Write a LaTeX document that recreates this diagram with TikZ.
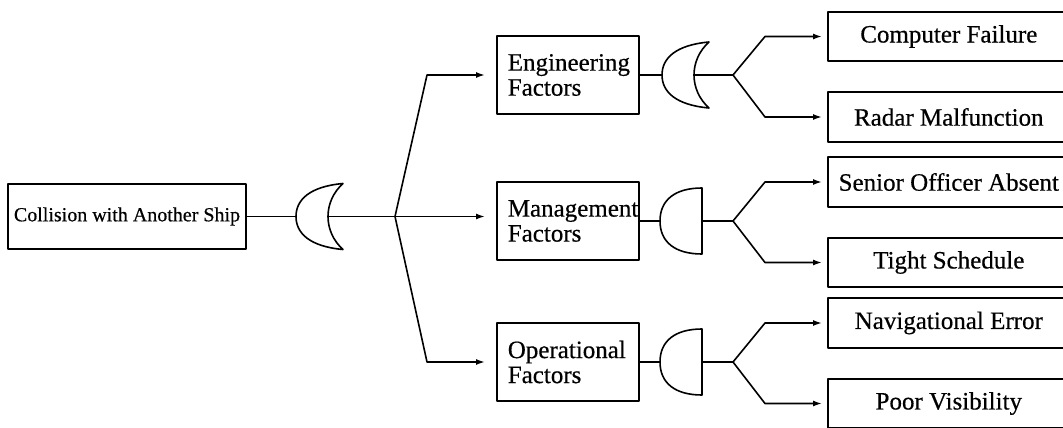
\documentclass[tikz,border=0pt]{standalone}
\usepackage{fontspec}
\setmainfont{Liberation Serif}[FakeBold=0.5]
\usetikzlibrary{arrows.meta}
\tikzset{
  ln/.style={line width=1.6pt, line join=round},
  arr/.style={ln, -{Latex[length=9pt,width=6pt]}},
  topbox/.style={draw, ln, rectangle, minimum width=238pt, minimum height=65pt,
    inner sep=0pt, font=\fontsize{20}{24}\selectfont},
  midbox/.style={draw, ln, rectangle, anchor=west, minimum width=142pt, minimum height=78pt,
    text width=120pt, inner xsep=11pt, align=left, font=\fontsize{25}{25}\selectfont},
  leafbox/.style={draw, ln, rectangle, anchor=west, minimum width=242pt, minimum height=49.5pt,
    inner sep=0pt, font=\fontsize{25}{28}\selectfont},
  orgate/.pic={
    \draw[ln] (47,-33) .. controls (14,-30) and (0,-17) .. (0,0)
      .. controls (0,17) and (14,30) .. (47,33)
      .. controls (27,15) and (27,-15) .. cycle;
    \coordinate (-in) at (0,0);
    \coordinate (-out) at (32,0);
  },
  andgate/.pic={
    \draw[ln] (42,-33) .. controls (15,-33) and (0,-21) .. (0,0)
      .. controls (0,21) and (15,33) .. (42,33) -- cycle;
    \coordinate (-in) at (0,0);
    \coordinate (-out) at (42,0);
  },
}
\begin{document}
\begin{tikzpicture}[x=1pt,y=-1pt]
\useasboundingbox (0,0) rectangle (1063,428);
\clip (0,0) rectangle (1063,428);
\fill[white] (0,0) rectangle (1063,428);

% top event
\node[topbox] (top) at (127,216.5) {Collision with Another Ship};
\pic (g0) at (296,216.5) {orgate};
\coordinate (b0) at (395,216.5);

% intermediate events
\node[midbox] (eng)  at (496,75)  {Engineering\\Factors};
\node[midbox] (mgmt) at (496,221) {Management\\Factors};
\node[midbox] (op)   at (496,362) {Operational\\Factors};

\pic (g1) at (662,75)  {orgate};
\pic (g2) at (660,221) {andgate};
\pic (g3) at (660,362) {andgate};
\coordinate (b1) at (733,75);
\coordinate (b2) at (733,221);
\coordinate (b3) at (733,362);

% basic events
\node[leafbox] (cf) at (827,36.5)  {Computer Failure};
\node[leafbox] (rm) at (827,117)   {Radar Malfunction};
\node[leafbox] (so) at (827,182)   {Senior Officer Absent};
\node[leafbox] (ts) at (827,262.5) {Tight Schedule};
\node[leafbox] (ne) at (827,323)   {Navigational Error};
\node[leafbox] (pv) at (827,403.5) {Poor Visibility};

% top event to first gate and its fan-out
\draw[ln] (top.east) -- (g0-in);
\draw[ln] (g0-out) -- (b0);
\draw[arr] (b0) -- ([xshift=-69pt]eng.west) -- ([xshift=-11pt]eng.west);
\draw[arr] (b0) -- ([xshift=-11pt]mgmt.west |- b0);
\draw[arr] (b0) -- ([xshift=-69pt]op.west) -- ([xshift=-11pt]op.west);

% second level gates
\draw[ln] (eng.east) -- (g1-in);
\draw[ln] (g1-out) -- (b1);
\draw[ln] (mgmt.east) -- (g2-in);
\draw[ln] (g2-out) -- (b2);
\draw[ln] (op.east) -- (g3-in);
\draw[ln] (g3-out) -- (b3);

\draw[arr] (b1) -- ([xshift=-62pt]cf.west) -- ([xshift=-5pt]cf.west);
\draw[arr] (b1) -- ([xshift=-62pt]rm.west) -- ([xshift=-5pt]rm.west);
\draw[arr] (b2) -- ([xshift=-62pt]so.west) -- ([xshift=-5pt]so.west);
\draw[arr] (b2) -- ([xshift=-62pt]ts.west) -- ([xshift=-5pt]ts.west);
\draw[arr] (b3) -- ([xshift=-62pt]ne.west) -- ([xshift=-5pt]ne.west);
\draw[arr] (b3) -- ([xshift=-62pt]pv.west) -- ([xshift=-5pt]pv.west);
\end{tikzpicture}
\end{document}
